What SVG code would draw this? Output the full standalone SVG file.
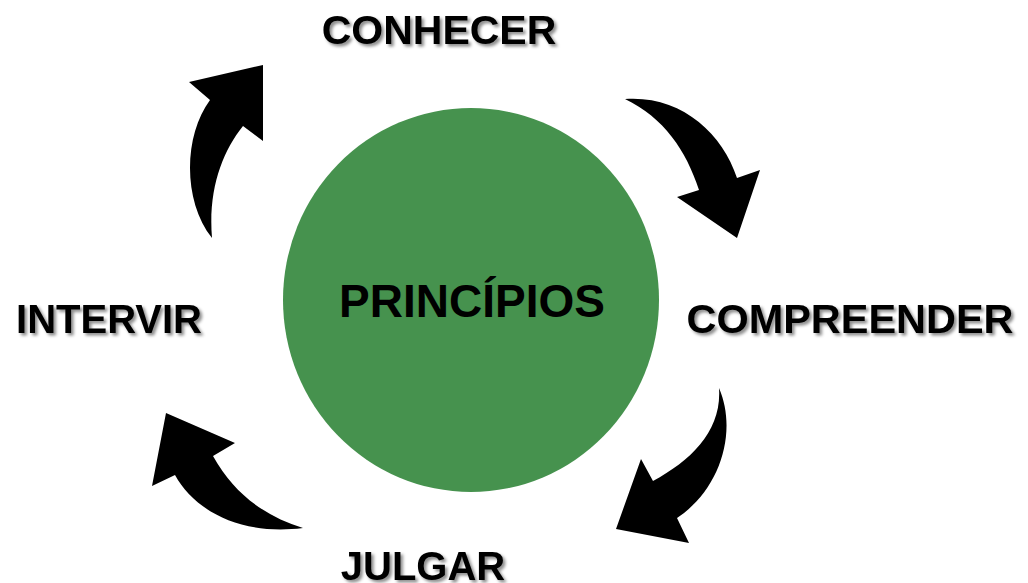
<svg xmlns="http://www.w3.org/2000/svg" width="1028" height="583" viewBox="0 0 1028 583">
  <defs>
    <filter id="shadow" x="-10%" y="-30%" width="120%" height="160%">
      <feDropShadow dx="2.5" dy="2.5" stdDeviation="1.5" flood-color="#000" flood-opacity="0.45"/>
    </filter>
  </defs>
  <style>
    .lbl { font-family: "Liberation Sans", Arial, sans-serif; font-weight: bold; font-size: 40px; fill: #000; text-anchor: middle; filter: url(#shadow); }
    .center { font-family: "Liberation Sans", Arial, sans-serif; font-weight: bold; font-size: 46px; fill: #000; text-anchor: middle; }
    .arrow { fill: #000; stroke: none; }
  </style>
  <rect width="1028" height="583" fill="#fff"/>
  <g id="principios">
    <ellipse cx="471" cy="300" rx="188" ry="192" fill="#46924E"/>
    <text class="center" x="472" y="317">PRINCÍPIOS</text>
  </g>
  <g id="connectors">
    <path class="arrow" d="M212,238 C182,200 184,135 210,100 L189,82 L263,65 L263,141 L243,126 C222,152 208,190 212,238 Z"/>
    <path class="arrow" d="M625,99 C680,95 722,132 737,178 L760,170 L737,238 L677,197 L699,190 C686,150 664,118 625,99 Z"/>
    <path class="arrow" d="M719,388 C738,432 720,490 677,518 L689,543 L616,529 L641,459 L653,481 C692,460 722,430 719,388 Z"/>
    <path class="arrow" d="M303,528 C240,536 194,510 175,475 L152,486 L166,413 L235,443 L213,456 C235,495 265,516 303,528 Z"/>
  </g>
  <g id="conhecer">
    <text class="lbl" x="439" y="44" style="font-size:41px">CONHECER</text>
  </g>
  <g id="compreender">
    <text class="lbl" x="850" y="333" textLength="327" lengthAdjust="spacingAndGlyphs">COMPREENDER</text>
  </g>
  <g id="julgar">
    <text class="lbl" x="423" y="580">JULGAR</text>
  </g>
  <g id="intervir">
    <text class="lbl" x="109" y="333">INTERVIR</text>
  </g>
</svg>
